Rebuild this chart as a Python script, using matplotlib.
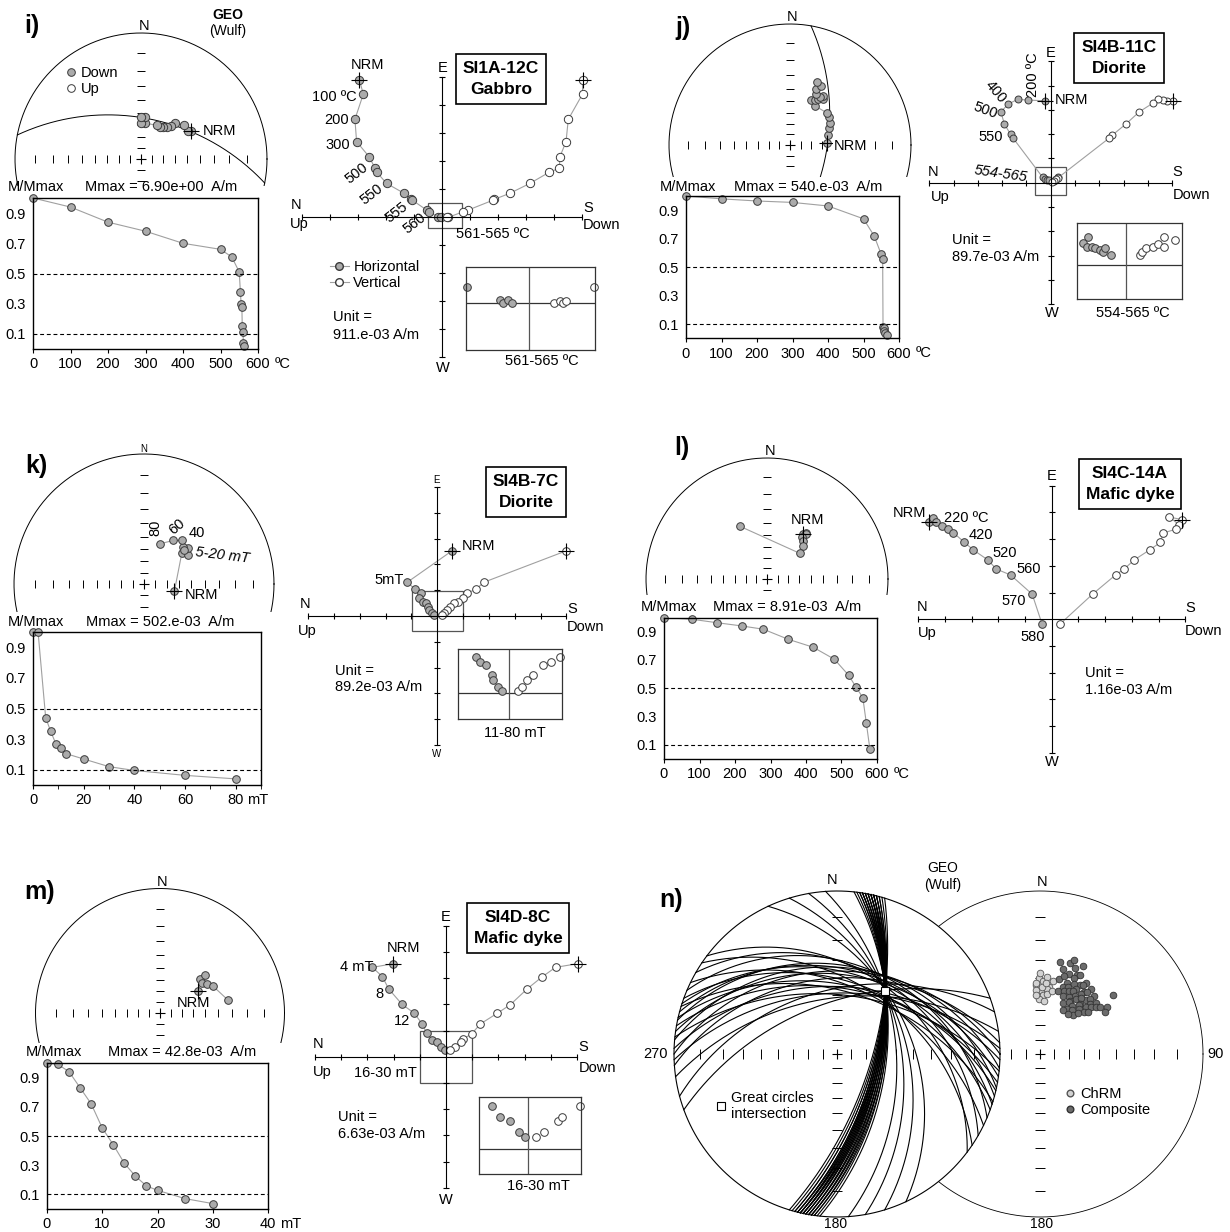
import matplotlib.pyplot as plt
import numpy as np
from matplotlib.lines import Line2D
from matplotlib.patches import Circle, Rectangle

plt.rcParams['font.family'] = ['Liberation Sans', 'DejaVu Sans']
plt.rcParams['font.size'] = 10.5

# ---------------- data ----------------
# panel i : SI1A-12C gabbro, thermal
i_dec = [61, 59, 51, 44, 42, 39, 35, 31, 26, 7, 0, 6, 0]
i_inc = [41, 43, 43, 47, 51, 54, 56, 57, 57, 58, 58, 53, 53]
i_plane = (281, 54)
i_step = [0, 100, 200, 300, 400, 500, 530, 550, 553, 555, 557, 558, 560, 561, 563]
i_mag = [1.0, 0.94, 0.84, 0.78, 0.70, 0.66, 0.61, 0.51, 0.38, 0.30, 0.28, 0.15, 0.11, 0.04, 0.02]
i_hx = [-2.95, -2.81, -3.11, -3.05, -2.60, -2.39, -2.33, -1.98, -1.36, -1.11, -1.06, -0.55, -0.46, -0.13, -0.05]
i_hy = [4.89, 4.39, 3.49, 2.69, 2.15, 1.74, 1.60, 1.20, 0.85, 0.63, 0.60, 0.25, 0.19, -0.01, -0.01]
i_vx = [5.02, 5.02, 4.51, 4.43, 4.21, 4.19, 3.83, 3.14, 2.43, 1.87, 1.82, 0.94, 0.76, 0.23, 0.18]
i_vy = [4.89, 4.39, 3.49, 2.69, 2.15, 1.74, 1.60, 1.20, 0.85, 0.63, 0.60, 0.25, 0.19, -0.01, -0.01]
i_zoom_hx = [-6.2, -2.9, -2.6, -2.1, -1.7]
i_zoom_hy = [1.6, 0.3, 0.0, 0.3, 0.0]
i_zoom_vx = [2.5, 3.1, 3.4, 3.7, 6.5]
i_zoom_vy = [0.0, 0.2, 0.0, 0.2, 1.6]

# panel j : SI4B-11C diorite, thermal
j_dec = [87, 75, 67, 61, 54, 49, 32, 25, 29, 31, 36, 34, 32, 27, 25, 28, 23]
j_inc = [56, 54, 51, 49, 47, 46, 48, 45, 44, 42, 40, 38, 40, 39, 36, 32, 31]
j_plane = (10, 56)
j_step = [0, 100, 200, 300, 400, 500, 530, 550, 554, 555, 557, 559, 561, 565]
j_mag = [1.0, 0.98, 0.965, 0.955, 0.93, 0.84, 0.72, 0.59, 0.56, 0.084, 0.072, 0.055, 0.04, 0.025]
j_hx = [-0.23, -0.92, -1.36, -1.74, -2.05, -1.91, -1.65, -1.56, -0.33, -0.25, -0.14, -0.05, 0.20, 0.30]
j_hy = [3.37, 3.40, 3.43, 3.24, 2.92, 2.42, 1.99, 1.85, 0.22, 0.15, 0.11, 0.12, 0.16, 0.22]
j_vx = [5.02, 4.77, 4.61, 4.40, 4.20, 3.65, 3.10, 2.54, 2.40, 0.30, 0.22, 0.12, 0.05]
j_vy = [3.37, 3.37, 3.40, 3.43, 3.27, 2.92, 2.42, 1.96, 1.83, 0.20, 0.14, 0.08, 0.03]
j_zoom_hx = [-3.77, -4.27, -3.93, -3.43, -3.1, -2.6, -2.33, -2.1, -1.53]
j_zoom_hy = [2.77, 2.17, 1.83, 1.77, 1.67, 1.5, 1.33, 1.67, 1.0]
j_zoom_vx = [1.4, 1.57, 2.0, 2.73, 3.23, 3.83, 3.8, 4.9]
j_zoom_vy = [1.0, 1.33, 1.67, 1.83, 2.1, 1.83, 2.77, 2.5]

# panel k : SI4B-7C diorite, AF
k_dec = [103, 51, 56, 51, 46, 49, 41, 34, 22]
k_inc = [63, 49, 46, 43, 45, 46, 42, 46, 53]
k_step = [0, 2, 5, 7, 9, 11, 13, 20, 30, 40, 60, 80]
k_mag = [1.0, 1.0, 0.44, 0.35, 0.27, 0.24, 0.205, 0.17, 0.12, 0.095, 0.063, 0.04]
k_hx = [0.56, -1.16, -0.86, -0.64, -0.70, -0.57, -0.45, -0.35, -0.31, -0.22, -0.13]
k_hy = [2.52, 1.31, 1.03, 0.88, 0.69, 0.56, 0.52, 0.34, 0.23, 0.13, 0.03]
k_vx = [4.98, 1.81, 1.49, 1.14, 0.98, 0.81, 0.65, 0.49, 0.36, 0.26, 0.17]
k_vy = [2.52, 1.31, 1.03, 0.88, 0.69, 0.56, 0.52, 0.36, 0.23, 0.13, 0.03]
k_zoom_hx = [-3.33, -2.93, -2.37, -1.7, -1.6, -1.1, -0.7]
k_zoom_hy = [3.67, 3.1, 2.83, 1.83, 1.33, 0.67, 0.27]
k_zoom_vx = [0.83, 1.3, 1.8, 2.4, 3.4, 4.13, 5.07]
k_zoom_vy = [0.27, 0.67, 1.33, 1.83, 2.83, 3.1, 3.67]

# panel l : SI4C-14A mafic dyke, thermal
l_dec = [38, 40, 41, 40, 43, 47, 52, 333]
l_inc = [39, 37, 38, 41, 43, 46, 52, 38]
l_step = [0, 80, 150, 220, 280, 350, 420, 480, 520, 540, 560, 570, 580]
l_mag = [1.0, 0.987, 0.963, 0.94, 0.917, 0.846, 0.79, 0.705, 0.592, 0.512, 0.434, 0.253, 0.07]
l_hx = [-4.61, -4.44, -4.33, -4.09, -3.9, -3.69, -3.3, -2.94, -2.4, -2.07, -1.54, -0.73, -0.36]
l_hy = [3.66, 3.81, 3.63, 3.50, 3.38, 3.25, 2.91, 2.6, 2.23, 1.88, 1.66, 0.94, -0.18]
l_vx = [4.89, 4.41, 4.77, 4.67, 4.17, 4.07, 3.67, 3.1, 2.71, 2.39, 1.53, 0.31]
l_vy = [3.73, 3.83, 3.54, 3.38, 3.23, 2.88, 2.6, 2.23, 1.88, 1.66, 0.94, -0.18]

# panel m : SI4D-8C mafic dyke, AF
m_dec = [60, 50, 50, 55, 58, 63, 79]
m_inc = [51, 44, 39, 45, 42, 39, 32]
m_step = [0, 2, 4, 6, 8, 10, 12, 14, 16, 18, 20, 25, 30]
m_mag = [1.0, 0.99, 0.94, 0.83, 0.72, 0.555, 0.44, 0.313, 0.225, 0.158, 0.128, 0.071, 0.037]
m_hx = [-2.01, -2.81, -2.43, -2.19, -1.68, -1.21, -0.91, -0.73, -0.53, -0.35, -0.2, -0.05]
m_hy = [3.55, 3.41, 3.06, 2.59, 2.0, 1.66, 1.25, 0.89, 0.64, 0.57, 0.38, 0.26]
m_vx = [5.02, 4.18, 3.66, 3.1, 2.45, 1.96, 1.31, 0.98, 0.66, 0.56, 0.33, 0.15]
m_vy = [3.55, 3.41, 3.04, 2.59, 1.98, 1.66, 1.25, 0.87, 0.68, 0.57, 0.38, 0.26]
m_zoom_hx = [-3.64, -2.77, -1.78, -0.91, -0.28]
m_zoom_hy = [4.36, 3.26, 2.83, 1.76, 1.2]
m_zoom_vx = [0.79, 1.58, 2.96, 3.44, 5.18]
m_zoom_vy = [1.2, 1.76, 2.83, 3.26, 4.36]

# panel n : great circles (strike, dip) and site directions
gc_strike = [6, 7, 8, 9, 10, 10, 11, 12, 12, 13, 13, 14, 15, 16, 17, 9, 11, 14, 12, 8,
             10, 12, 13, 11, 14, 9, 13, 15,
             250, 255, 262, 266, 268, 270, 272, 275, 276, 278, 280, 282, 283, 285, 287, 288,
             290, 293, 296, 300, 304, 307, 335, 343, 350, 356]
gc_dip = [56, 57, 58, 58, 59, 60, 60, 61, 62, 62, 63, 63, 64, 65, 66, 59, 61, 62, 60, 57,
          59, 61, 61, 60, 63, 58, 62, 64,
          55, 47, 52, 40, 49, 36, 45, 34, 50, 38, 46, 33, 44, 35, 48, 37,
          42, 32, 45, 34, 43, 36, 41, 44, 47, 50]
gc_int = (37, 38)
chrm_dec = [357, 359, 2, 5, 8, 1, 356, 358, 3, 6, 10, 0, 357, 359, 4, 7, 2, 356, 11, 5]
chrm_inc = [44, 40, 42, 39, 45, 48, 47, 51, 50, 46, 41, 37, 43, 53, 54, 49, 45, 50, 47, 43]
comp_dec = [12, 15, 18, 20, 22, 25, 14, 17, 21, 24, 27, 30, 33, 19, 23, 26, 29, 32, 35, 38,
            16, 21, 25, 28, 31, 34, 37, 40, 43, 22, 27, 30, 33, 36, 39, 42, 45, 48, 24, 29,
            34, 38, 41, 44, 47, 50, 31, 36, 40, 46, 52, 55, 28, 35, 43, 49, 51, 57, 20, 26]
comp_inc = [30, 33, 29, 35, 31, 34, 39, 37, 40, 36, 33, 38, 35, 43, 42, 39, 41, 37, 40, 36,
            46, 45, 44, 43, 45, 42, 39, 43, 38, 48, 47, 49, 46, 44, 47, 41, 43, 40, 52, 50,
            51, 48, 50, 46, 44, 42, 54, 53, 55, 49, 40, 37, 56, 57, 52, 47, 30, 39, 27, 28]

# ---------------- styling ----------------
W, H = 1230, 1232
FILL = '#ababab'
EDGE = '#3a3a3a'
LINE = '#a0a0a0'

fig = plt.figure(figsize=(W / 100, H / 100), dpi=100)


def px_axes(x0, y0, x1, y1, zorder=1):
    """ Axes placed by pixel box (origin top-left) """
    return fig.add_axes([x0 / W, 1 - y1 / H, (x1 - x0) / W, (y1 - y0) / H], zorder=zorder)


def ftext(x, y, s, **kw):
    kw.setdefault('ha', 'center')
    kw.setdefault('va', 'center')
    return fig.text(x / W, 1 - y / H, s, **kw)


def wulff(dec, inc):
    dec = np.radians(np.asarray(dec, float))
    r = np.tan(np.radians(90 - np.abs(np.asarray(inc, float))) / 2)
    return r * np.sin(dec), r * np.cos(dec)


def great_circle(strike, dip):
    t = np.radians(np.linspace(0, 180, 181))
    a, d = np.radians(strike), np.radians(dip)
    s = np.array([np.cos(a), np.sin(a), 0.0])
    dd = np.array([np.cos(d) * np.cos(a + np.pi / 2), np.cos(d) * np.sin(a + np.pi / 2), np.sin(d)])
    v = np.outer(np.cos(t), s) + np.outer(np.sin(t), dd)
    inc = np.degrees(np.arcsin(np.clip(v[:, 2], -1, 1)))
    dec = np.degrees(np.arctan2(v[:, 1], v[:, 0]))
    return wulff(dec, inc)


def stereonet(cx, cy, R, y_cut, lw=0.7, face=None):
    pad = 4
    x0, x1, y0 = cx - R - pad, cx + R + pad, cy - R - pad
    ax = px_axes(x0, y0, x1, y_cut)
    ax.set_xlim((x0 - cx) / R, (x1 - cx) / R)
    ax.set_ylim((cy - y_cut) / R, (cy - y0) / R)
    ax.axis('off')
    if face:
        ax.add_patch(Circle((0, 0), 1, facecolor=face, edgecolor='none', zorder=0))
    t = np.linspace(0, 2 * np.pi, 400)
    ax.plot(np.cos(t), np.sin(t), color='k', lw=lw)
    r = np.tan(np.radians(np.arange(5, 45, 5)))
    h = 0.03
    for sgn in (-1, 1):
        ax.vlines(sgn * r, -h, h, color='k', lw=0.7)
        ax.hlines(sgn * r, -h, h, color='k', lw=0.7)
    ax.plot(0, 0, '+', color='k', ms=7, mew=0.8)
    return ax


def stereo_points(ax, dec, inc, ms=6):
    x, y = wulff(dec, inc)
    ax.plot(x, y, '-', color=LINE, lw=0.8)
    ax.plot(x, y, 'o', mfc=FILL, mec=EDGE, ms=ms, mew=0.7)
    ax.plot(x[0], y[0], '+', color='k', ms=11, mew=0.8)


def decay(box, xv, mv, xmax, xticks, unit, unit_x, minor=None):
    x0, y0, x1, y1 = box
    ax = px_axes(x0, y0, x1, y1, zorder=3)
    ax.plot(xv, mv, '-', color=LINE, lw=0.8)
    ax.plot(xv, mv, 'o', mfc=FILL, mec=EDGE, ms=5.5, mew=0.7, clip_on=False)
    for lev in (0.5, 0.1):
        ax.axhline(lev, color='k', lw=0.8, ls=(0, (3.5, 2.5)))
    ax.set_xlim(0, xmax)
    ax.set_ylim(0, 1)
    ax.set_yticks([0.1, 0.3, 0.5, 0.7, 0.9], ['0.1', '0.3', '0.5', '0.7', '0.9'])
    ax.set_xticks(xticks, [str(v) for v in xticks])
    if minor is not None:
        ax.set_xticks(minor, minor=True)
    ax.tick_params(axis='y', length=0, pad=5, labelsize=10.5)
    ax.tick_params(axis='x', which='both', length=3, direction='out', pad=3, labelsize=10.5)
    for s in ax.spines.values():
        s.set_linewidth(1.0)
    ftext(unit_x, y1 + 15, unit, ha='left')
    return ax


def zijderveld(ox, oy, u, hx, hy, vx, vy, ms=5.5):
    ax = px_axes(ox - 5 * u, oy - 5 * u, ox + 5 * u, oy + 5 * u, zorder=2)
    ax.set_xlim(-5, 5)
    ax.set_ylim(-5, 5)
    ax.patch.set_alpha(0)
    ax.spines['top'].set_visible(False)
    ax.spines['right'].set_visible(False)
    ax.spines['left'].set_position('zero')
    ax.spines['bottom'].set_position('zero')
    ticks = [-5, -4, -3, -2, -1, 1, 2, 3, 4, 5]
    ax.set_xticks(ticks)
    ax.set_yticks(ticks)
    ax.tick_params(direction='inout', length=5, width=0.8, labelbottom=False, labelleft=False)
    for xs, ys, fc in ((hx, hy, FILL), (vx, vy, 'white')):
        ax.plot(xs, ys, '-', color=LINE, lw=0.8, clip_on=False)
        ax.plot(xs, ys, 'o', mfc=fc, mec=EDGE, ms=ms, mew=0.7, clip_on=False)
        ax.plot(xs[0], ys[0], '+', color='k', ms=11, mew=0.8, clip_on=False)
    return ax


def zoom_box(box, origin, hx, hy, vx, vy):
    x0, y0, x1, y1 = box
    ox, oy = origin
    ax = px_axes(x0, y0, x1, y1, zorder=3)
    ax.set_xlim((x0 - ox) / 10, (x1 - ox) / 10)
    ax.set_ylim((oy - y1) / 10, (oy - y0) / 10)
    ax.set_xticks([])
    ax.set_yticks([])
    for s in ax.spines.values():
        s.set_linewidth(0.9)
        s.set_color('#333333')
    ax.axhline(0, color='#333333', lw=0.9)
    ax.axvline(0, color='#555555', lw=0.9)
    ax.plot(hx, hy, 'o', mfc=FILL, mec=EDGE, ms=5.5, mew=0.7, clip_on=False)
    ax.plot(vx, vy, 'o', mfc='white', mec=EDGE, ms=5.5, mew=0.7, clip_on=False)
    return ax


def axis_names(pos, size=10.5, ew_size=None):
    ew_size = ew_size or size
    for key, (x, y) in pos.items():
        ftext(x, y, key, fontsize=ew_size if key in ('E', 'W') else size)


def sample_box(x, y, name, rock):
    ftext(x, y, name + '\n' + rock, fontsize=12.5, fontweight='bold', linespacing=1.45,
          bbox=dict(boxstyle='square,pad=0.4', fc='white', ec='k', lw=1.2))


def mmax(x_left, x_mm, y, value):
    ftext(x_left, y, 'M/Mmax', ha='left')
    ftext(x_mm, y, 'Mmax = ' + value + '  A/m', ha='left')


filled = Line2D([], [], ls='none', marker='o', mfc=FILL, mec=EDGE, ms=5.5, mew=0.7)
opened = Line2D([], [], ls='none', marker='o', mfc='white', mec=EDGE, ms=5.5, mew=0.7)
LEG = dict(frameon=False, loc='upper left', borderpad=0, borderaxespad=0, handletextpad=0.3,
           labelspacing=0.15, fontsize=10.5)

temp_ticks = [0, 100, 200, 300, 400, 500, 600]

# ================= panel i =================
ftext(24, 26, 'i)', fontsize=18, fontweight='bold', ha='left')
ax = stereonet(141, 159, 126, 186)
ax.plot(*great_circle(*i_plane), color='k', lw=0.7)
stereo_points(ax, i_dec, i_inc, ms=6)
ftext(144, 26, 'N')
ftext(228, 15, 'GEO', fontweight='bold', fontsize=10)
ftext(228, 31, '(Wulf)', fontsize=10)
ftext(203, 131, 'NRM', ha='left')
fig.legend([filled, opened], ['Down', 'Up'], bbox_to_anchor=(65 / W, 1 - 66 / H),
           handlelength=0.8, **LEG)
mmax(8, 85, 187, '6.90e+00')
decay((33, 198, 258, 349), i_step, i_mag, 600, temp_ticks, 'ºC', 275)

zijderveld(442, 217, 28, i_hx, i_hy, i_vx, i_vy, ms=6)
fig.axes[-1].add_patch(Rectangle((-0.5, -0.39), 1.21, 0.89, fill=False, ec='#555555', lw=0.9))
axis_names({'N': (296, 205), 'Up': (299, 224), 'S': (588, 208), 'Down': (602, 225),
            'E': (443, 68), 'W': (443, 368)})
ftext(368, 65, 'NRM')
ftext(357, 97, '100 ºC', ha='right')
ftext(349, 120, '200', ha='right')
ftext(350, 145, '300', ha='right')
for (x, y, s) in ((357, 173, '500'), (372, 194, '550'), (397, 212, '555'), (415, 223, '560')):
    ftext(x, y, s, rotation=38)
ftext(456, 234, '561-565 ºC', ha='left')
sample_box(501, 79, 'SI1A-12C', 'Gabbro')
fig.legend([Line2D([], [], color=LINE, lw=0.8, marker='o', mfc=FILL, mec=EDGE, ms=5.5),
            Line2D([], [], color=LINE, lw=0.8, marker='o', mfc='white', mec=EDGE, ms=5.5)],
           ['Horizontal', 'Vertical'], bbox_to_anchor=(330 / W, 1 - 260 / H),
           handlelength=1.3, **LEG)
ftext(333, 317, 'Unit =', ha='left')
ftext(333, 335, '911.e-03 A/m', ha='left')
zoom_box((466, 267, 595, 350), (529, 303), i_zoom_hx, i_zoom_hy, i_zoom_vx, i_zoom_vy)
ftext(542, 361, '561-565 ºC')

# ================= panel j =================
ftext(675, 28, 'j)', fontsize=18, fontweight='bold', ha='left')
ax = stereonet(790, 145, 121, 177)
ax.plot(*great_circle(*j_plane), color='k', lw=0.7)
stereo_points(ax, j_dec, j_inc, ms=5.5)
ftext(792, 17, 'N')
ftext(834, 146, 'NRM', ha='left', zorder=5,
      bbox=dict(boxstyle='square,pad=0.05', fc='white', ec='none'))
mmax(660, 734, 187, '540.e-03')
decay((686, 196, 899, 338.5), j_step, j_mag, 600, temp_ticks, 'ºC', 916)

zijderveld(1050.7, 182.7, 24.3, j_hx, j_hy, j_vx, j_vy, ms=5)
fig.axes[-1].add_patch(Rectangle((-0.65, -0.51), 1.27, 1.17, fill=False, ec='#555555', lw=0.9))
axis_names({'N': (933, 172), 'Up': (940, 197), 'S': (1177, 172), 'Down': (1191, 195),
            'E': (1051, 53), 'W': (1052, 313)})
ftext(1055, 100, 'NRM', ha='left')
ftext(1033, 75, '200 ºC', rotation=90)
ftext(996, 92, '400', rotation=-50)
ftext(985, 110, '500', rotation=-20)
ftext(991, 137, '550')
ftext(1001, 174, '554-565', rotation=-8, style='italic')
sample_box(1119, 58, 'SI4B-11C', 'Diorite')
ftext(952, 240, 'Unit =', ha='left')
ftext(952, 257, '89.7e-03 A/m', ha='left')
zoom_box((1076.7, 222.7, 1181.7, 299.3), (1126, 265), j_zoom_hx, j_zoom_hy, j_zoom_vx, j_zoom_vy)
ftext(1133, 313, '554-565 ºC')

# ================= panel k =================
ftext(25, 466, 'k)', fontsize=18, fontweight='bold', ha='left')
ax = stereonet(144, 584, 130, 612)
stereo_points(ax, k_dec, k_inc, ms=5.5)
ftext(144, 449, 'N', fontsize=7)
ftext(155, 528, '80', rotation=90)
ftext(177, 527, '60', rotation=40)
ftext(197, 533, '40')
ftext(222, 555, '5-20 mT', rotation=-7, style='italic')
ftext(185, 595, 'NRM', ha='left')
mmax(8, 86, 622, '502.e-03')
decay((33, 632, 261, 785), k_step, k_mag, 90, [0, 20, 40, 60, 80], 'mT', 247,
      minor=[10, 30, 50, 70, 90])

zijderveld(437.3, 616, 25.8, k_hx, k_hy, k_vx, k_vy)
fig.axes[-1].add_patch(Rectangle((-0.99, -0.57), 1.97, 1.55, fill=False, ec='#555555', lw=0.9))
axis_names({'N': (305, 604), 'Up': (307, 631), 'S': (572, 609), 'Down': (586, 627),
            'E': (437, 480), 'W': (437, 754)}, ew_size=7)
ftext(462, 546, 'NRM', ha='left')
ftext(404, 580, '5mT', ha='right')
sample_box(526, 492, 'SI4B-7C', 'Diorite')
ftext(335, 671, 'Unit =', ha='left')
ftext(335, 687, '89.2e-03 A/m', ha='left')
zoom_box((458.3, 649.3, 561.7, 719), (509.3, 693.3), k_zoom_hx, k_zoom_hy, k_zoom_vx, k_zoom_vy)
ftext(515, 733, '11-80 mT')

# ================= panel l =================
ftext(674, 448, 'l)', fontsize=18, fontweight='bold', ha='left')
ax = stereonet(767, 579, 121, 595)
stereo_points(ax, l_dec, l_inc, ms=5.5)
ftext(770, 451, 'N')
ftext(808, 520, 'NRM')
mmax(641, 713, 607, '8.91e-03')
decay((664, 617.5, 877, 759), l_step, l_mag, 600, temp_ticks, 'ºC', 894)

zijderveld(1051.7, 619.3, 26.7, l_hx, l_hy, l_vx, l_vy)
axis_names({'N': (922, 607), 'Up': (927, 633), 'S': (1190, 608), 'Down': (1203, 631),
            'E': (1052, 476), 'W': (1052, 762)})
ftext(926, 513, 'NRM', ha='right')
ftext(944, 518, '220 ºC', ha='left')
ftext(969, 535, '420', ha='left')
ftext(992, 553, '520', ha='left')
ftext(1016, 569, '560', ha='left')
ftext(1026, 601, '570', ha='right')
ftext(1033, 637, '580')
sample_box(1130, 484, 'SI4C-14A', 'Mafic dyke')
ftext(1085, 673, 'Unit =', ha='left')
ftext(1085, 690, '1.16e-03 A/m', ha='left')

# ================= panel m =================
ftext(24, 892, 'm)', fontsize=18, fontweight='bold', ha='left')
ax = stereonet(160, 1013, 124.5, 1043)
stereo_points(ax, m_dec, m_inc, ms=5.5)
ftext(162, 882, 'N')
ftext(193, 1003, 'NRM')
mmax(26, 108, 1052, '42.8e-03')
decay((47, 1063, 268, 1209), m_step, m_mag, 40, [0, 10, 20, 30, 40], 'mT', 280)

zijderveld(446, 1056.7, 26.2, m_hx, m_hy, m_vx, m_vy)
fig.axes[-1].add_patch(Rectangle((-1.0, -1.0), 2.01, 2.0, fill=False, ec='#555555', lw=0.9))
axis_names({'N': (318, 1044), 'Up': (322, 1072), 'S': (583, 1047), 'Down': (597, 1068),
            'E': (446, 917), 'W': (446, 1200)})
ftext(403, 948, 'NRM')
ftext(374, 967, '4 mT', ha='right')
ftext(379, 994, '8')
ftext(402, 1021, '12')
ftext(385, 1073, '16-30 mT')
sample_box(518, 928, 'SI4D-8C', 'Mafic dyke')
ftext(338, 1117, 'Unit =', ha='left')
ftext(338, 1134, '6.63e-03 A/m', ha='left')
zoom_box((479.2, 1096.7, 580.5, 1174), (527.9, 1149.3), m_zoom_hx, m_zoom_hy, m_zoom_vx, m_zoom_vy)
ftext(538, 1186, '16-30 mT')

# ================= panel n =================
ftext(659, 900, 'n)', fontsize=18, fontweight='bold', ha='left')
axr = stereonet(1040, 1054, 163, 1222, lw=0.6)
cx, cy = wulff(chrm_dec, chrm_inc)
axr.plot(cx, cy, 'o', mfc='#d2d2d2', mec='#555555', ms=4.8, mew=0.6)
px, py = wulff(comp_dec, comp_inc)
axr.plot(px, py, 'o', mfc='#6c6c6c', mec='#333333', ms=4.8, mew=0.6)

axl = stereonet(837, 1054, 163, 1222, lw=0.8, face='white')
for s, d in zip(gc_strike, gc_dip):
    axl.plot(*great_circle(s, d), color='k', lw=0.8)
axl.plot(*wulff(gc_int[0], gc_int[1]), 's', mfc='white', mec='k', ms=6, mew=0.8, zorder=5)

ftext(832, 880, 'N')
ftext(1042, 882, 'N')
ftext(655, 1054, '270')
ftext(1216, 1054, '90')
ftext(836, 1224, '180', fontsize=10)
ftext(1042, 1224, '180', fontsize=10)
ftext(943, 868, 'GEO', fontsize=10)
ftext(943, 885, '(Wulf)', fontsize=10)
fig.legend([Line2D([], [], ls='none', marker='s', mfc='white', mec='k', ms=6, mew=0.8)],
           ['Great circles\nintersection'], bbox_to_anchor=(715 / W, 1 - 1091 / H),
           handlelength=0.8, **LEG)
fig.legend([Line2D([], [], ls='none', marker='o', mfc='#d2d2d2', mec='#555555', ms=4.8),
            Line2D([], [], ls='none', marker='o', mfc='#6c6c6c', mec='#333333', ms=4.8)],
           ['ChRM', 'Composite'], bbox_to_anchor=(1064 / W, 1 - 1087 / H),
           handlelength=0.8, **LEG)

fig.savefig('out.png', dpi=100)
